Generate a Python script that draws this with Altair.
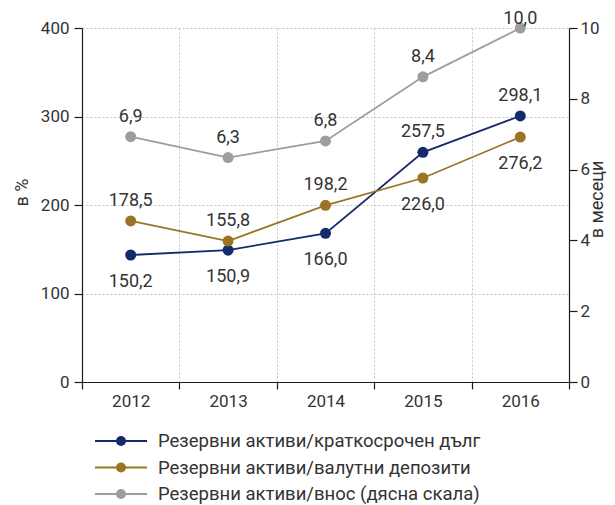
import altair as alt
import pandas as pd

years = ["2012", "2013", "2014", "2015", "2016"]
series_names = [
    "Резервни активи/краткосрочен дълг",
    "Резервни активи/валутни депозити",
    "Резервни активи/внос (дясна скала)",
]
point_keys = ["точки 1", "точки 2", "точки 3"]
series_colors = ["#152a6b", "#9c7426", "#9d9d9d"]

debt_values = [143.5, 149.0, 168.0, 259.5, 300.6]
debt_labels = ["150,2", "150,9", "166,0", "257,5", "298,1"]
debt_place = ["below", "below", "below", "above", "above"]

dep_values = [182.0, 159.3, 199.6, 230.5, 276.8]
dep_labels = ["178,5", "155,8", "198,2", "226,0", "276,2"]
dep_place = ["above", "above", "above", "below", "below"]

imp_values = [6.93, 6.34, 6.81, 8.62, 10.0]
imp_labels = ["6,9", "6,3", "6,8", "8,4", "10,0"]
imp_place = ["above", "above", "above", "above", "top"]

left_ticks = [0, 100, 200, 300, 400]
right_ticks = [0, 2, 4, 6, 8, 10]

rows = []
for name, key, vals, labs, places, side in [
    (series_names[0], point_keys[0], debt_values, debt_labels, debt_place, "left"),
    (series_names[1], point_keys[1], dep_values, dep_labels, dep_place, "left"),
    (series_names[2], point_keys[2], imp_values, imp_labels, imp_place, "right"),
]:
    for y, v, l, p in zip(years, vals, labs, places):
        rows.append({"year": y, "series": name, "series_pt": key, "value": v,
                     "label": l, "place": p, "side": side})
df = pd.DataFrame(rows)

FONT = "Roboto"
TXT = "#333333"

color_scale = alt.Scale(domain=series_names, range=series_colors)
fill_scale = alt.Scale(domain=point_keys, range=series_colors)

x_main = alt.X(
    "year:O",
    sort=years,
    scale=alt.Scale(type="band", paddingInner=0, paddingOuter=0),
    axis=alt.Axis(title=None, tickBand="extent", grid=True, labelAngle=0,
                  labelPadding=4, tickSize=7, labelFont=FONT, labelFontSize=17,
                  labelColor=TXT),
)
x_plain = alt.X("year:O", sort=years)

LEG_X = 12
LEG_Y = 405
LEG_FS = 18.5
LEG_ROWPAD = 7.5


def build(side, y_enc, first):
    base = alt.Chart(df).transform_filter(alt.datum.side == side)
    line = base.mark_line(strokeWidth=1.8).encode(
        x=x_main if first else x_plain,
        y=y_enc,
        color=alt.Color(
            "series:N", scale=color_scale,
            legend=alt.Legend(
                title=None, orient="none", legendX=LEG_X, legendY=LEG_Y,
                symbolType="stroke", symbolSize=2704, symbolStrokeWidth=2,
                clipHeight=16, rowPadding=LEG_ROWPAD, labelOffset=10, padding=0,
                labelFontSize=LEG_FS, labelFont=FONT, labelColor=TXT, labelLimit=500,
            ),
        ),
    )
    pts = base.mark_circle(size=121, opacity=1).encode(
        x=x_plain,
        y=y_enc,
        fill=alt.Fill(
            "series_pt:N", scale=fill_scale,
            legend=alt.Legend(
                title=None, orient="none", legendX=LEG_X + 17.75, legendY=LEG_Y,
                symbolType="circle", symbolSize=100, symbolStrokeWidth=0,
                symbolOpacity=1, clipHeight=16, rowPadding=LEG_ROWPAD, padding=0,
                labelFontSize=LEG_FS, labelFont=FONT, labelExpr="''",
            ),
        ),
    )
    layers = [line, pts]
    for place, dy in [("above", -20), ("below", 27), ("top", -9)]:
        layers.append(
            base.transform_filter(alt.datum.place == place).mark_text(
                dy=dy, fontSize=18, font=FONT, color=TXT, baseline="middle"
            ).encode(x=x_plain, y=y_enc, text="label:N")
        )
    return alt.layer(*layers)


y_left = alt.Y(
    "value:Q",
    scale=alt.Scale(domain=[0, 400], nice=False),
    axis=alt.Axis(title="в %", values=left_ticks, grid=True, orient="left",
                  labelPadding=5, tickSize=8,
                  labelFont=FONT, labelFontSize=17, labelColor=TXT,
                  titleFont=FONT, titleFontSize=18, titleFontWeight="normal",
                  titleColor=TXT, titleAngle=270, titleX=-60, titleY=164,
                  titleBaseline="middle", titleAlign="center"),
)
y_right = alt.Y(
    "value:Q",
    scale=alt.Scale(domain=[0, 10], nice=False),
    axis=alt.Axis(title="в месеци", values=right_ticks, grid=False, orient="right",
                  labelPadding=3, tickSize=8,
                  labelFont=FONT, labelFontSize=17, labelColor=TXT,
                  titleFont=FONT, titleFontSize=18, titleFontWeight="normal",
                  titleColor=TXT, titleAngle=270, titleX=28, titleY=171,
                  titleBaseline="middle", titleAlign="center"),
)

chart = (
    alt.layer(build("left", y_left, True), build("right", y_right, False))
    .resolve_scale(y="independent")
    .properties(
        width=487, height=354,
        autosize=alt.AutoSizeParams(type="none"),
        padding={"left": 74, "top": 20, "right": 38, "bottom": 123},
    )
    .configure_view(stroke=None)
    .configure_axis(
        domainColor="#1a1a1a", tickColor="#1a1a1a", domainWidth=1.2, tickWidth=1.2,
        gridColor="#c4c4c4", gridDash=[2, 2], gridWidth=1,
    )
)

chart.save("out.html", embed_options={"renderer": "svg", "actions": False})
